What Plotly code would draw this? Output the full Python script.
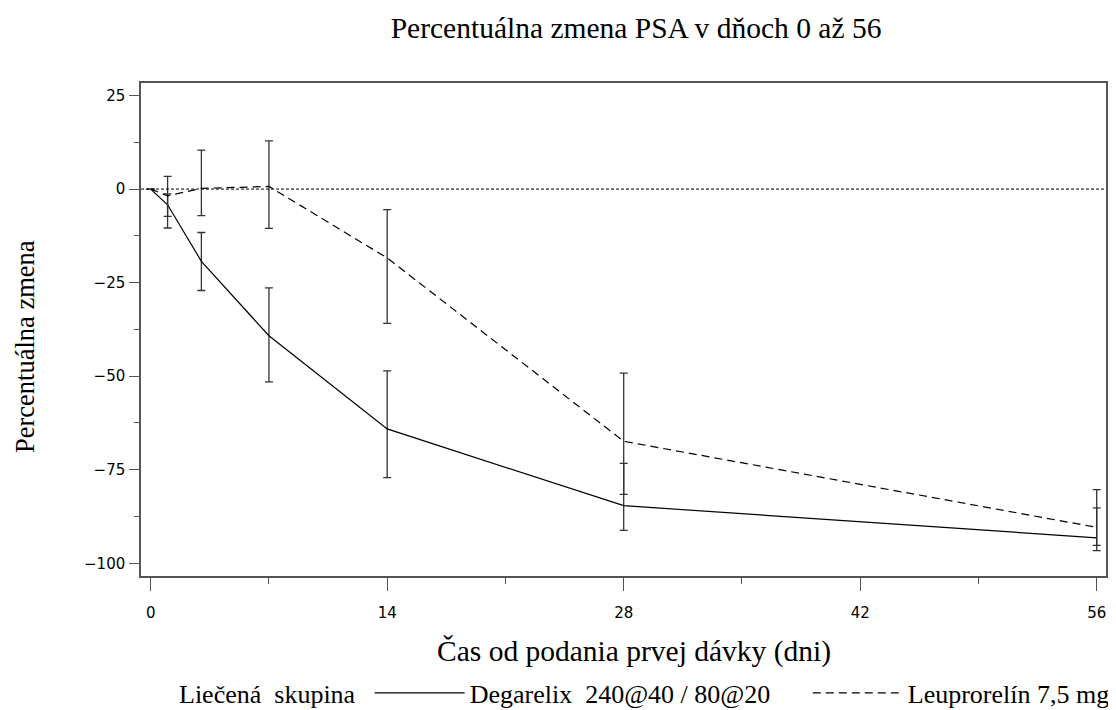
import plotly.graph_objects as go

days = [0, 1, 3, 7, 14, 28, 56]
deg_mean = [0, -4.2, -19.3, -39.2, -64.1, -84.6, -93.2]
deg_upper = [0, -1.3, -11.6, -26.4, -48.6, -73.3, -85.2]
deg_lower = [0, -7.3, -27.1, -51.5, -77.1, -91.2, -96.6]
leu_mean = [0, -1.8, 0.2, 0.7, -18.4, -67.4, -90.4]
leu_upper = [0, 3.4, 10.4, 12.9, -5.5, -49.2, -80.3]
leu_lower = [0, -10.4, -7.1, -10.5, -35.9, -81.6, -95.2]

x_ticks = [0, 14, 28, 42, 56]
x_minor = [7, 21, 35, 49]
y_ticks = [25, 0, -25, -50, -75, -100]
y_minor = [12.5, -12.5, -37.5, -62.5, -87.5]

serif = "Liberation Serif, Times New Roman, serif"
sans = "DejaVu Sans, Verdana, sans-serif"
gap = "\u00a0" * 5


def err(mean, upper, lower):
    plus = [None if d == 0 else u - m for d, m, u in zip(days, mean, upper)]
    minus = [None if d == 0 else m - l for d, m, l in zip(days, mean, lower)]
    return dict(type="data", symmetric=False, array=plus, arrayminus=minus,
                width=4, thickness=1.3, color="#333333")


fig = go.Figure()
fig.add_trace(go.Scatter(
    x=days, y=deg_mean, mode="lines",
    name="Degarelix\u00a0 240@40 / 80@20" + gap,
    line=dict(color="black", width=1.2),
    error_y=err(deg_mean, deg_upper, deg_lower),
))
fig.add_trace(go.Scatter(
    x=days, y=leu_mean, mode="lines",
    name="Leuprorelín 7,5 mg",
    line=dict(color="black", width=1.2, dash="8px,5px"),
    error_y=err(leu_mean, leu_upper, leu_lower),
))

fig.add_hline(y=0, line=dict(color="black", width=1, dash="3px,2px"))

axis_common = dict(showgrid=False, zeroline=False, showline=True, mirror=True,
                   linecolor="#555555", linewidth=1.5, ticks="outside",
                   tickcolor="#555555", tickwidth=1.3,
                   tickfont=dict(family=sans, size=15, color="black"))

fig.update_xaxes(range=[-0.574, 56.55], tickvals=x_ticks, ticklen=13,
                 ticklabelstandoff=9,
                 minor=dict(tickvals=x_minor, ticklen=6, ticks="outside",
                            tickcolor="#555555", tickwidth=1.3),
                 **axis_common)
fig.update_yaxes(range=[-103.4, 28.35], tickvals=y_ticks, ticklen=10,
                 ticklabelstandoff=1,
                 minor=dict(tickvals=y_minor, ticklen=5, ticks="outside",
                            tickcolor="#555555", tickwidth=1.3),
                 **axis_common)

fig.update_layout(
    width=1120, height=730,
    margin=dict(l=133, r=22, t=75, b=162),
    paper_bgcolor="white", plot_bgcolor="white",
    title=dict(text="Percentuálna zmena PSA v dňoch 0 až 56",
               font=dict(family=serif, size=29.5, color="black"),
               xref="paper", x=0.513, xanchor="center",
               yref="container", y=0.9736, yanchor="middle"),
    showlegend=True,
    legend=dict(orientation="h", xanchor="left", x=0.0373,
                yanchor="middle", y=-0.2373,
                itemwidth=90,
                title=dict(text="Liečená\u00a0 skupina\u00a0", side="left",
                           font=dict(family=serif, size=26, color="black")),
                font=dict(family=serif, size=26, color="black"),
                bgcolor="rgba(0,0,0,0)"),
    annotations=[
        dict(text="Percentuálna zmena", textangle=-90, showarrow=False,
             xref="paper", yref="paper", x=-0.1202, y=0.4645,
             xanchor="center", yanchor="middle",
             font=dict(family=serif, size=26.5, color="black")),
        dict(text="Čas od podania prvej dávky (dni)", showarrow=False,
             xref="paper", yref="paper", x=0.511, y=-0.154,
             xanchor="center", yanchor="middle",
             font=dict(family=serif, size=29.5, color="black")),
    ],
)

fig.write_html("out.html")
